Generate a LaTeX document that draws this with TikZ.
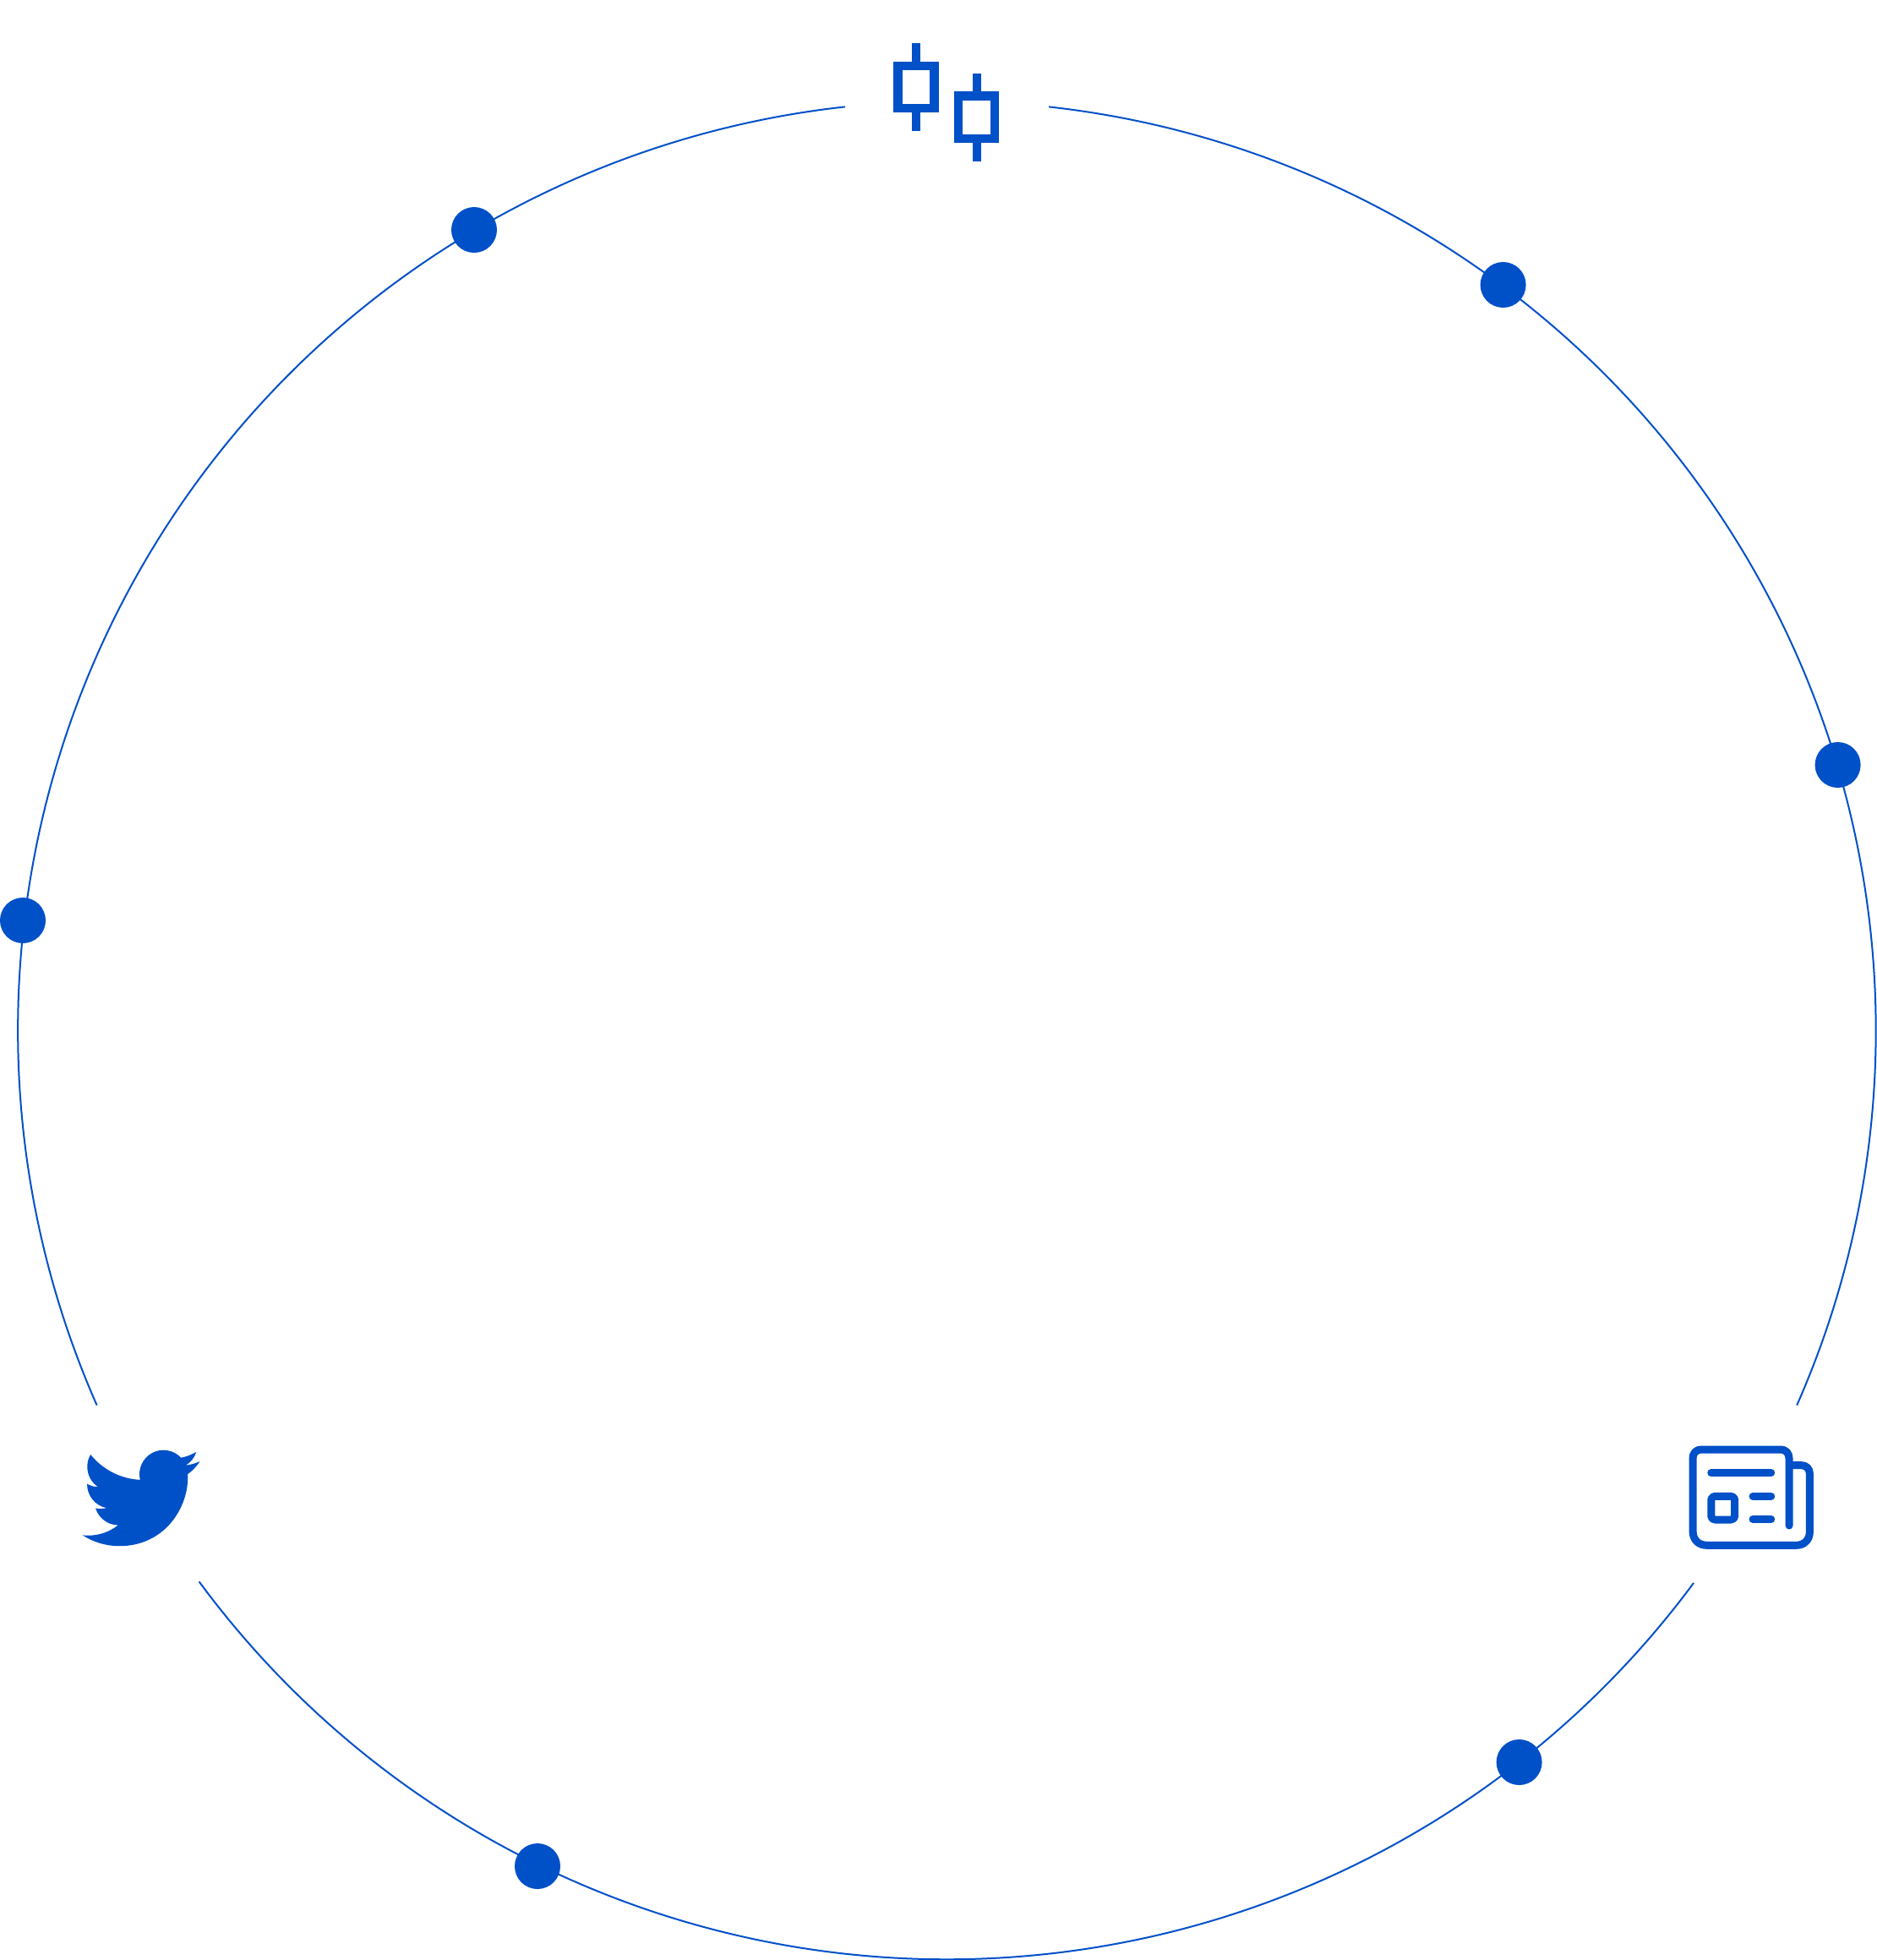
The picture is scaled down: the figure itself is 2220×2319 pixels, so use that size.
\documentclass[tikz,border=0pt]{standalone}
\definecolor{ringblue}{HTML}{0050C8}
\tikzset{
  ringline/.style={draw=ringblue,line width=2pt},
  ringdot/.style={circle,fill=ringblue,inner sep=0pt,minimum size=54pt},
  iconline/.style={draw=ringblue,line width=9pt,line cap=round,line join=round},
  candle/.style={draw=ringblue,line width=10.3pt,fill=none}
}
\begin{document}
\begin{tikzpicture}[x=1pt,y=-1pt]
  \useasboundingbox (0,0) rectangle (2220,2319);

  % Ring, broken at the three icons
  \coordinate (ring) at (1120.4,1219);
  \foreach \from/\to in {-23.8/83.7,96.3/203.8,216.4/323.5}
    \draw[ringline] (ring) ++(\from:1099.3pt) arc[start angle=\from,end angle=\to,radius=1099.3pt];

  % Dots on the ring
  \foreach \id/\x/\y in {a/561/272,b/1778.6/337,c/2174.6/905,d/27/1089,e/636/2208,f/1797.6/2085}
    \node[ringdot] (dot-\id) at (\x,\y) {};

  % Candles
  \foreach \x/\y in {1084/103,1155.7/138.7} {
    \fill[ringblue] (\x-5.2,\y-52) rectangle (\x+5.2,\y+52);
    \filldraw[candle,fill=white] (\x-21.5,\y-25.2) rectangle (\x+21.5,\y+25.2);
  }

  % Bird
  \begin{scope}[shift={(97.67,1702.6)},x=5.78pt,y=-5.82pt]
    \fill[ringblue] (23.953,4.57) .. controls (23.05,4.968) and (22.108,5.226) .. (21.128,5.345)
      .. controls (22.189,4.707) and (22.91,3.799) .. (23.291,2.622)
      .. controls (22.34,3.177) and (21.286,3.581) .. (20.164,3.806)
      .. controls (18.642,2.179) and (16.213,1.777) .. (14.249,2.828)
      .. controls (12.285,3.879) and (11.271,6.119) .. (11.78,8.288)
      .. controls (7.69,8.095) and (4.067,6.13) .. (1.64,3.162)
      .. controls (1.191,3.926) and (0.969,4.751) .. (0.974,5.637)
      .. controls (0.974,7.347) and (1.844,8.85) .. (3.162,9.733)
      .. controls (2.369,9.708) and (1.627,9.502) .. (0.934,9.117)
      -- (0.934,9.177)
      .. controls (0.934,11.521) and (2.583,13.538) .. (4.88,14.004)
      .. controls (4.149,14.2) and (3.412,14.228) .. (2.668,14.089)
      .. controls (3.316,16.093) and (5.166,17.467) .. (7.272,17.506)
      .. controls (5.531,18.873) and (3.383,19.614) .. (1.17,19.611)
      .. controls (0.78,19.611) and (0.391,19.588) .. (0,19.544)
      .. controls (2.28,21.004) and (4.85,21.755) .. (7.557,21.753)
      .. controls (16.61,21.753) and (21.555,14.257) .. (21.555,7.768)
      .. controls (21.555,7.558) and (21.555,7.348) .. (21.54,7.138)
      .. controls (22.514,6.437) and (23.334,5.588) .. (24,4.59) -- cycle;
  \end{scope}

  % Newspaper
  \begin{scope}[shift={(1970.4,1640)},x=0.3333pt,y=-0.3333pt]
    \draw[iconline] (440,495) -- (440,257) .. controls (440,238) and (428,225) .. (410,225)
      -- (128,225) .. controls (110,225) and (98,238) .. (98,255)
      -- (98,515) .. controls (98,545) and (118,565) .. (148,565)
      -- (465,565) .. controls (494,565) and (513,545) .. (513,517)
      -- (513,311) .. controls (513,293) and (501,281) .. (483,281) -- (445,281);
    \draw[iconline] (163,308) -- (376,308);
    \draw[iconline] (311,391) -- (376,391);
    \draw[iconline] (311,473) -- (376,473);
    \draw[iconline] (163,405) .. controls (163,396) and (168,391) .. (177,391)
      -- (233,391) .. controls (242,391) and (247,396) .. (247,405)
      -- (247,460) .. controls (247,469) and (242,474) .. (233,474)
      -- (177,474) .. controls (168,474) and (163,469) .. (163,460) -- cycle;
  \end{scope}
\end{tikzpicture}
\end{document}
